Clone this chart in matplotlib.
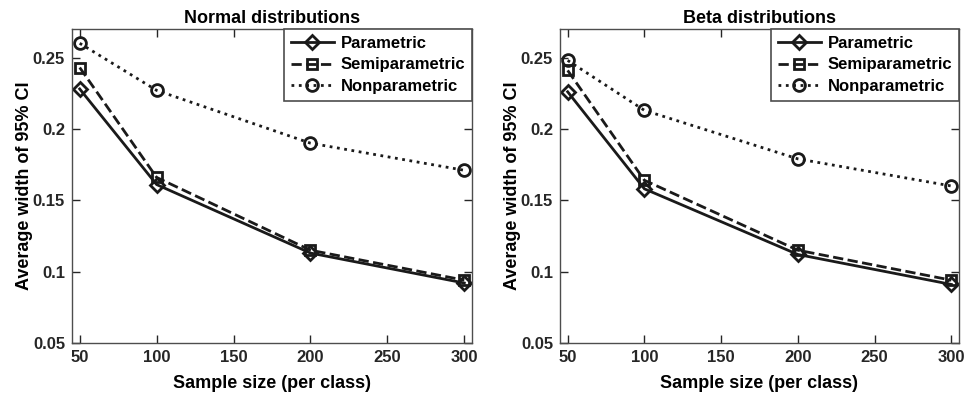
import matplotlib.pyplot as plt

plt.rcParams['font.family'] = ['Liberation Sans', 'DejaVu Sans']
plt.rcParams['font.weight'] = 'bold'

sizes = [50, 100, 200, 300]
titles = ['Normal distributions', 'Beta distributions']

# normal distributions
normal_param = [0.228, 0.161, 0.113, 0.092]
normal_semi = [0.243, 0.166, 0.115, 0.094]
normal_non = [0.260, 0.227, 0.190, 0.171]

# beta distributions
beta_param = [0.226, 0.158, 0.112, 0.091]
beta_semi = [0.241, 0.164, 0.115, 0.094]
beta_non = [0.248, 0.213, 0.179, 0.160]

series_names = ['Parametric', 'Semiparametric', 'Nonparametric']
data = [[normal_param, normal_semi, normal_non],
        [beta_param, beta_semi, beta_non]]
styles = [('-', 'D', 7.5), ('--', 's', 7.5), (':', 'o', 8.5)]

fig = plt.figure(figsize=(9.68, 4.03), dpi=100)
positions = [[0.0744, 0.149, 0.4132, 0.779], [0.5785, 0.149, 0.4122, 0.779]]

for k in range(2):
    ax = fig.add_axes(positions[k])
    for j in range(3):
        ls, mk, ms = styles[j]
        ax.plot(sizes, data[k][j], linestyle=ls, marker=mk, markersize=ms,
                color='#1a1a1a', markerfacecolor='none', markeredgewidth=2,
                linewidth=2, label=series_names[j])
    ax.set_xlim(45, 305)
    ax.set_ylim(0.05, 0.27)
    ax.set_xticks([50, 100, 150, 200, 250, 300])
    ax.set_yticks([0.05, 0.1, 0.15, 0.2, 0.25])
    ax.set_yticklabels(['0.05', '0.1', '0.15', '0.2', '0.25'])
    ax.tick_params(direction='in', top=True, right=True, labelsize=12,
                   length=6, width=1, colors='#262626', pad=5)
    for s in ax.spines.values():
        s.set_color('#4d4d4d')
        s.set_linewidth(1)
    ax.set_title(titles[k], fontsize=13, fontweight='bold', pad=4)
    ax.set_xlabel('Sample size (per class)', fontsize=13, fontweight='bold', labelpad=7)
    ax.set_ylabel('Average width of 95% CI', fontsize=13, fontweight='bold', labelpad=0)
    leg = ax.legend(loc='upper right', fontsize=12, fancybox=False,
                    framealpha=1, edgecolor='#4d4d4d', borderaxespad=0,
                    handlelength=2.6, borderpad=0.4, labelspacing=0.4,
                    handletextpad=0.4)
    leg.get_frame().set_linewidth(1.2)

plt.savefig('out.png', dpi=100)
